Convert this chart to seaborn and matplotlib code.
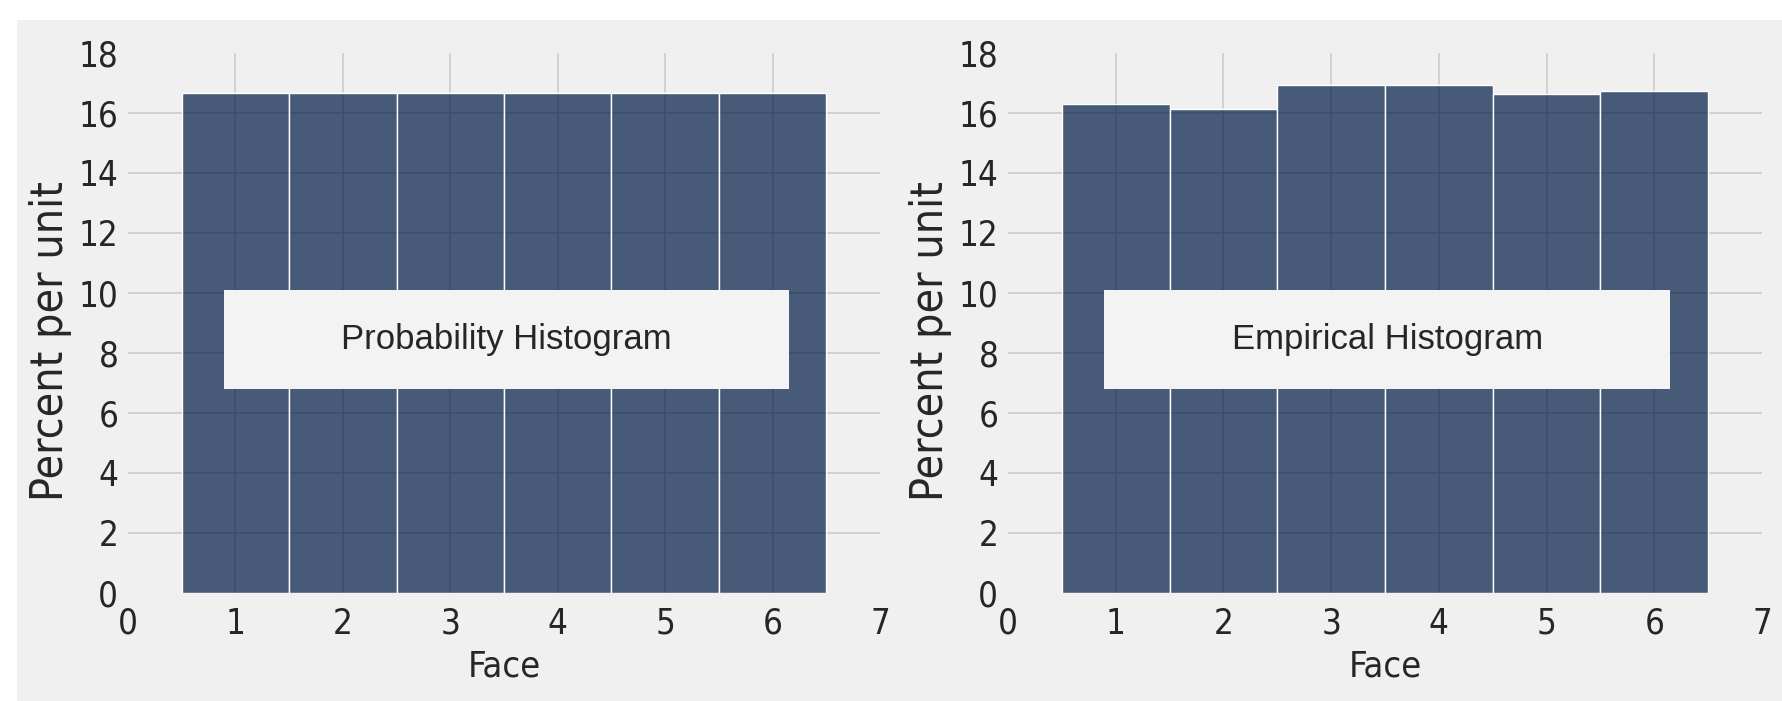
import numpy as np
import pandas as pd
import seaborn as sns
import matplotlib.pyplot as plt
from matplotlib.patches import Rectangle

# data
faces = [1, 2, 3, 4, 5, 6]
prob_percent = [100 / 6] * 6
empirical_percent = [16.3, 16.15, 16.95, 16.95, 16.65, 16.75]
titles = ["Probability Histogram", "Empirical Histogram"]
ylabel = "Percent per unit"
xlabel = "Face"

BG = "#f0f0f0"
BAR = "#001A44"

sns.set_style("whitegrid", {"axes.facecolor": BG, "grid.color": "#cbcbcb",
                            "axes.edgecolor": BG})
plt.rcParams['font.family'] = ['DejaVu Sans']
plt.rcParams['font.stretch'] = 'condensed'

W, H = 1782, 701
fig = plt.figure(figsize=(W / 100, H / 100), dpi=100, facecolor="white")
fig.patches.append(Rectangle((17 / W, 0), 1, (H - 20) / H, transform=fig.transFigure,
                             facecolor=BG, edgecolor="none", zorder=-10))


def panel(left, right, values, title):
    ax = fig.add_axes([left / W, (H - 593) / H, (right - left) / W, (593 - 53) / H])
    df = pd.DataFrame({"face": faces, "pct": values})
    sns.histplot(data=df, x="face", weights="pct", discrete=True, color=BAR,
                 alpha=0.7, edgecolor="white", linewidth=1.0, ax=ax)
    ax.set_xlim(0, 7)
    ax.set_ylim(0, 18)
    ax.set_xticks(range(0, 8))
    ax.set_yticks(range(0, 19, 2))
    ax.grid(True, color="#cbcbcb", linewidth=1.2)
    ax.set_axisbelow(True)
    # no grid lines on the frame edges
    xg = ax.xaxis.get_gridlines()
    yg = ax.yaxis.get_gridlines()
    for g in (xg[0], xg[-1], yg[0], yg[-1]):
        g.set_visible(False)
    for s in ax.spines.values():
        s.set_visible(False)
    ax.tick_params(axis="x", length=0, labelsize=25, pad=10)
    ax.tick_params(axis="y", length=0, labelsize=25, pad=7)
    ax.set_xlabel(xlabel, fontsize=26, labelpad=6)
    ax.set_ylabel(ylabel, fontsize=32)
    ax.yaxis.set_label_coords(-0.074, 0.467)
    ax.add_patch(Rectangle((0.89, 6.8), 5.26, 3.3, facecolor="#f3f3f3",
                           edgecolor="none", zorder=5))
    ax.text(3.52, 8.45, title, ha="center", va="center", fontsize=25,
            family="Liberation Sans", stretch="normal", zorder=6)
    return ax


panel(128, 880, prob_percent, titles[0])
panel(1008, 1762, empirical_percent, titles[1])

fig.savefig("out.png", dpi=100, facecolor=fig.get_facecolor())
